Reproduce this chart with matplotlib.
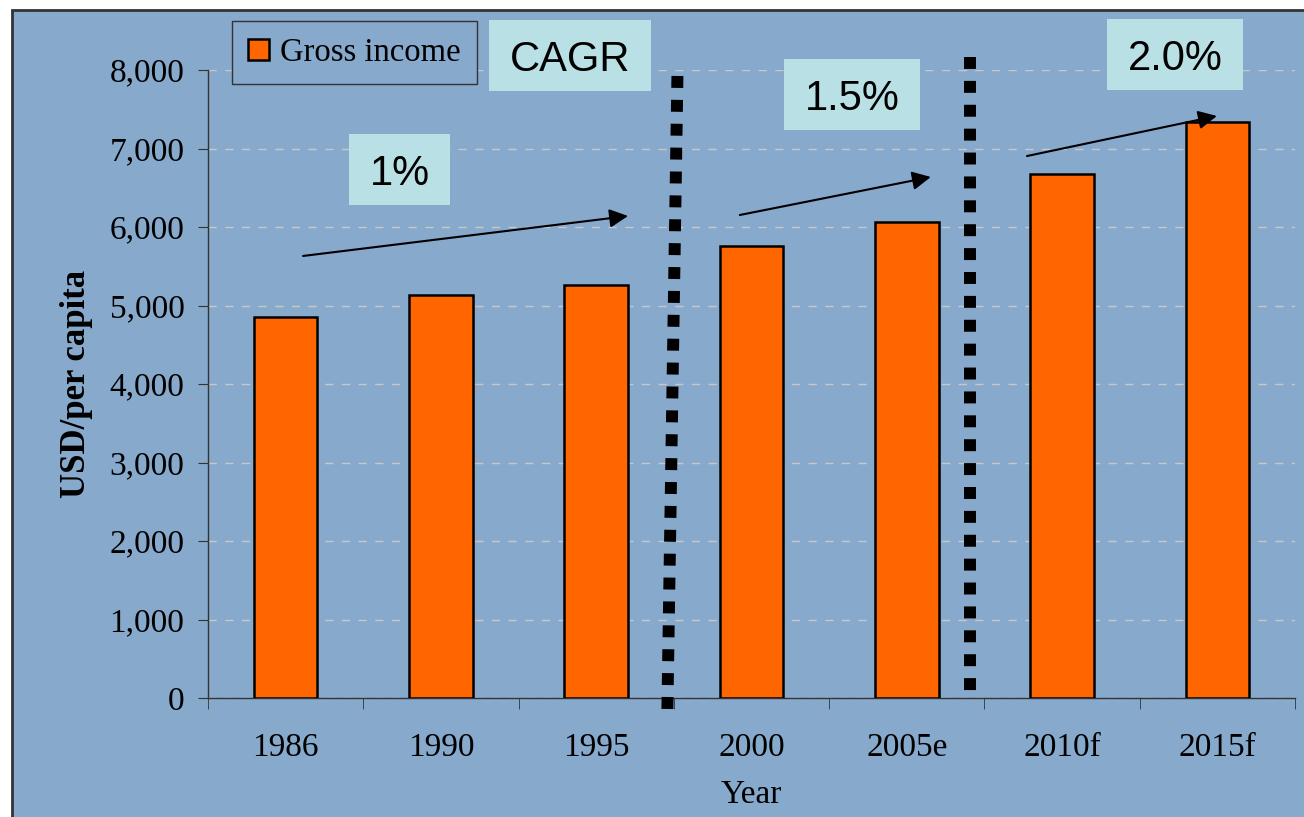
import matplotlib.pyplot as plt
import numpy as np
from matplotlib.patches import Rectangle
from matplotlib.lines import Line2D
from matplotlib.ticker import FuncFormatter, FixedLocator

years = ['1986', '1990', '1995', '2000', '2005e', '2010f', '2015f']
gross_income = [4850, 5130, 5260, 5760, 6070, 6670, 7340]
cagr_labels = ['CAGR', '1%', '1.5%', '2.0%']

BG = '#87A9CC'
ORANGE = '#FF6600'
BOX = '#B9E0E4'
SERIF = 'Liberation Serif'
SANS = 'Liberation Sans'

fig = plt.figure(figsize=(13.04, 8.17), dpi=100)
fig.patch.set_facecolor('white')
fig.patches.append(Rectangle((12 / 1304, -0.02), 1.0, 1 - 10 / 817 + 0.02,
                             transform=fig.transFigure, facecolor=BG,
                             edgecolor='#333333', linewidth=2, zorder=-10))

ax = fig.add_axes([208 / 1304, 119 / 817, 1087 / 1304, 628 / 817])
ax.set_facecolor('none')

x = np.arange(len(years))
ax.bar(x, gross_income, width=0.41, color=ORANGE, edgecolor='black',
       linewidth=1.8, label='Gross income', zorder=3)

ax.set_xlim(-0.5, len(years) - 0.5)
ax.set_ylim(0, 8000)
ax.set_yticks(np.arange(0, 8001, 1000))
ax.yaxis.set_major_formatter(FuncFormatter(lambda v, p: f'{int(v):,}'))
ax.grid(axis='y', color='#C8C8C8', linestyle=(0, (6, 6)), linewidth=1, zorder=0)

ax.set_xticks(x)
ax.set_xticklabels(years)
ax.xaxis.set_minor_locator(FixedLocator(np.arange(-0.5, len(years), 1.0)))
ax.tick_params(axis='x', which='major', length=0, pad=25)
ax.tick_params(axis='x', which='minor', length=8, direction='out', color='#333333')
ax.tick_params(axis='y', length=7, direction='out', color='#333333', pad=10)
for lab in ax.get_xticklabels() + ax.get_yticklabels():
    lab.set_fontfamily(SERIF)
    lab.set_fontsize(24)

for s in ['top', 'right']:
    ax.spines[s].set_visible(False)
for s in ['left', 'bottom']:
    ax.spines[s].set_color('#333333')
    ax.spines[s].set_linewidth(1)

ax.set_ylabel('USD/per capita', fontfamily=SERIF, fontsize=25, fontweight='bold', labelpad=12)
ax.set_xlabel('Year', fontfamily=SERIF, fontsize=24, labelpad=12)

# dotted period separators
for (x0, y0, x1, y1) in [(2.523, 7924, 2.458, -178), (4.41, 8166, 4.41, 76)]:
    ax.add_line(Line2D([x0, x1], [y0, y1], color='black', linewidth=8.6,
                       linestyle=(0, (1, 1)), dash_capstyle='butt',
                       clip_on=False, zorder=4))

# growth arrows
arrows = [((0.112, 5631), (2.205, 6140)),
          ((2.925, 6153), (4.155, 6637)),
          ((4.774, 6904), (5.997, 7414))]
for start, end in arrows:
    ax.annotate('', xy=end, xytext=start, annotation_clip=False,
                arrowprops=dict(arrowstyle='-|>', color='black', lw=1.5,
                                mutation_scale=28, shrinkA=0, shrinkB=0),
                zorder=5)

# CAGR label boxes: (centre x, centre y, box width) in data units
box_specs = [(1.832, 8185, 1.043), (0.733, 6732, 0.650),
             (3.647, 7688, 0.876), (5.727, 8197, 0.876)]
box_h = 905
for (cx, cy, w), lab in zip(box_specs, cagr_labels):
    ax.add_patch(Rectangle((cx - w / 2, cy - box_h / 2), w, box_h,
                           facecolor=BOX, edgecolor='none', clip_on=False, zorder=6))
    ax.text(cx, cy - 60, lab, fontfamily=SANS, fontsize=30, ha='center', va='center',
            clip_on=False, zorder=7)

leg = ax.legend(loc='upper left', bbox_to_anchor=(232 / 1304, 1 - 21 / 817),
                bbox_transform=fig.transFigure, borderaxespad=0, fancybox=False,
                frameon=True, prop={'family': SERIF, 'size': 23.5},
                handlelength=0.62, handleheight=0.62, handletextpad=0.35,
                borderpad=0.5)
leg.get_frame().set_facecolor(BG)
leg.get_frame().set_edgecolor('#333333')
leg.get_frame().set_linewidth(1)
leg.get_frame().set_alpha(1)

fig.savefig('out.png', dpi=100)
